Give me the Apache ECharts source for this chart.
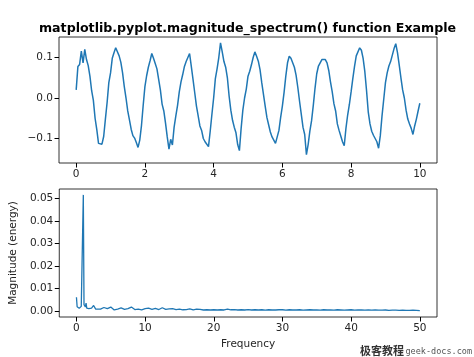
<!DOCTYPE html>
<html>
<head>
<meta charset="utf-8">
<script src="https://cdn.jsdelivr.net/npm/echarts@6/dist/echarts.min.js"></script>
<style>
html,body{margin:0;padding:0;background:#fff;}
#chart{width:474px;height:357px;}
</style>
</head>
<body>
<div id="chart"></div>
<script>
const sampleStep = 0.05;
const signalValues = [
  0.020, 0.078, 0.083, 0.116, 0.087, 0.120, 0.095, 0.080, 0.054, 0.018,
 -0.006,-0.050,-0.078,-0.112,-0.108,-0.114,-0.095,-0.052,-0.011, 0.038,
  0.062, 0.098, 0.112, 0.124, 0.121, 0.104, 0.088, 0.062, 0.028, 0.000,
 -0.032,-0.054,-0.077,-0.093,-0.099,-0.110,-0.122,-0.104,-0.068,-0.018,
  0.028, 0.055, 0.076, 0.092, 0.110, 0.098, 0.085, 0.072, 0.046, 0.020,
 -0.015,-0.032,-0.062,-0.096,-0.126,-0.102,-0.116,-0.072,-0.044,-0.018,
  0.015, 0.040, 0.058, 0.078, 0.090, 0.100, 0.110, 0.078, 0.046, 0.013,
 -0.020,-0.044,-0.069,-0.080,-0.100,-0.108,-0.104,-0.120,-0.082,-0.040,
  0.000, 0.048, 0.072, 0.100, 0.136, 0.114, 0.090, 0.076, 0.050, 0.005,
 -0.030,-0.055,-0.072,-0.086,-0.115,-0.130,-0.075,-0.030, 0.000, 0.022,
  0.054, 0.066, 0.082, 0.100, 0.114, 0.103, 0.091, 0.070, 0.038, 0.009,
 -0.020,-0.048,-0.066,-0.084,-0.096,-0.104,-0.112,-0.116,-0.080,-0.048,
 -0.020, 0.014, 0.054, 0.087, 0.103, 0.098, 0.095, 0.076, 0.056, 0.026,
 -0.008,-0.040,-0.072,-0.090,-0.140,-0.115,-0.082,-0.056,-0.018, 0.024,
  0.060, 0.079, 0.087, 0.095, 0.098, 0.095, 0.087, 0.068, 0.040, 0.016,
 -0.014,-0.032,-0.064,-0.080,-0.094,-0.108,-0.118,-0.075,-0.042,-0.016,
  0.015, 0.048, 0.078, 0.104, 0.105, 0.124, 0.118, 0.098, 0.065, 0.018,
 -0.035,-0.064,-0.082,-0.092,-0.100,-0.108,-0.124,-0.093,-0.044,-0.003,
  0.038, 0.062, 0.079, 0.090, 0.106, 0.122, 0.134, 0.112, 0.082, 0.050,
  0.020, 0.000,-0.030,-0.052,-0.064,-0.075,-0.090,-0.069,-0.052,-0.032,
 -0.013
];
const timeTicks = [0, 2, 4, 6, 8, 10];
const signalTicks = [-0.1, 0.0, 0.1];

// ---- Bottom panel: magnitude spectrum ----
const spectrumFreqs = [
  0.0,0.1,0.2,0.3,0.4,0.5,0.6,0.7,0.8,0.9,1.0,1.1,1.2,1.3,1.4,1.5,1.6,1.7,1.8,1.9,2.0,
  2.2,2.5,2.8,3.0,3.5,4.0,4.5,5.0,5.5,6.0,6.5,7.0,7.5,8.0,8.5,9.0,9.5,10.0,
  10.5,11.0,11.5,12.0,12.5,13.0,13.5,14.0,14.5,15.0,15.5,16.0,16.5,17.0,17.5,18.0,
  18.5,19.0,19.5,20.0,20.5,21.0,21.5,22.0,22.5,23.0,23.5,24.0,24.5,25.0,25.5,26.0,
  26.5,27.0,27.5,28.0,28.5,29.0,29.5,30.0,30.5,31.0,31.5,32.0,32.5,33.0,33.5,34.0,
  34.5,35.0,35.5,36.0,36.5,37.0,37.5,38.0,38.5,39.0,39.5,40.0,40.5,41.0,41.5,42.0,
  42.5,43.0,43.5,44.0,44.5,45.0,45.5,46.0,46.5,47.0,47.5,48.0,48.5,49.0,49.5,50.0
];
const spectrumMagnitudes = [
  0.0062,0.0020,0.0016,0.0024,0.0014,0.0020,0.0016,0.0022,0.0019,0.0030,0.0515,0.0030,0.0038,0.0020,0.0036,0.0014,0.0016,0.0008,0.0012,0.0006,0.0010,
  0.0014,0.0026,0.0010,0.0016,0.0010,0.0017,0.0012,0.0019,0.0006,0.0010,0.0015,0.0009,0.0012,0.0019,0.0008,0.0010,0.0007,0.0012,
  0.0014,0.0009,0.0013,0.0008,0.0016,0.0009,0.0011,0.0012,0.0008,0.0010,0.0007,0.0008,0.0011,0.0006,0.0010,0.0009,
  0.0006,0.0007,0.0006,0.0007,0.0006,0.0007,0.0006,0.0010,0.0007,0.0008,0.0006,0.0007,0.0006,0.0008,0.0006,0.0007,
  0.0006,0.0007,0.0005,0.0007,0.0006,0.0006,0.0007,0.0007,0.0005,0.0007,0.0006,0.0006,0.0007,0.0005,0.0006,0.0007,
  0.0006,0.0006,0.0005,0.0007,0.0006,0.0006,0.0005,0.0007,0.0006,0.0005,0.0006,0.0007,0.0005,0.0006,0.0006,0.0005,
  0.0006,0.0005,0.0006,0.0005,0.0005,0.0006,0.0004,0.0005,0.0005,0.0004,0.0005,0.0004,0.0004,0.0005,0.0004,0.0003
];
const freqTicks = [0, 10, 20, 30, 40, 50];
const magnitudeTicks = [0.00, 0.01, 0.02, 0.03, 0.04, 0.05];

const signalData = signalValues.map((v, i) => [+(i * sampleStep).toFixed(2), v]);
const spectrumData = spectrumFreqs.map((f, i) => [f, spectrumMagnitudes[i]]);

const FONT = 'DejaVu Sans';
const LABEL_COLOR = '#262626';
const BLUE = '#1f77b4';

function axisCfg(gridIndex, min, max, ticks, fmt, extra) {
  return Object.assign({
    type: 'value', gridIndex, min, max,
    axisLine: { show: false, onZero: false },
    splitLine: { show: false },
    axisTick: { show: true, inside: false, length: 4.5, customValues: ticks, lineStyle: { color: '#000', width: 1 } },
    axisLabel: { customValues: ticks, formatter: fmt, color: LABEL_COLOR, fontFamily: FONT, fontSize: 10.5, margin: 6 }
  }, extra || {});
}

const chart = echarts.init(document.getElementById('chart'), null, { renderer: 'canvas' });
chart.setOption({
  animation: false,
  backgroundColor: '#fff',
  title: {
    text: 'matplotlib.pyplot.magnitude_spectrum() function Example',
    left: 34, top: 17,
    textStyle: { fontFamily: FONT, fontWeight: 'bold', fontSize: 12.6, color: '#000' }
  },
  grid: [
    { left: 59, top: 37, width: 378, height: 126, show: true, borderColor: '#000', borderWidth: 0.8, backgroundColor: 'transparent' },
    { left: 59, top: 189, width: 378, height: 128, show: true, borderColor: '#000', borderWidth: 0.8, backgroundColor: 'transparent' }
  ],
  xAxis: [
    axisCfg(0, -0.5, 10.5, timeTicks, v => String(Math.round(v))),
    axisCfg(1, -2.5, 52.5, freqTicks, v => String(Math.round(v)), {
      name: 'Frequency', nameLocation: 'middle', nameGap: 22,
      nameTextStyle: { fontFamily: FONT, fontSize: 10.5, color: LABEL_COLOR }
    })
  ],
  yAxis: [
    axisCfg(0, -0.1605, 0.1507, signalTicks, v => (v < 0 ? '\u2212' : '') + Math.abs(v).toFixed(1)),
    axisCfg(1, -0.0025, 0.0541, magnitudeTicks, v => v.toFixed(2), {
      name: 'Magnitude (energy)', nameLocation: 'middle', nameGap: 30,
      nameTextStyle: { fontFamily: FONT, fontSize: 10.5, color: LABEL_COLOR }
    })
  ],
  series: [
    { type: 'line', xAxisIndex: 0, yAxisIndex: 0, data: signalData, showSymbol: false, symbol: 'none',
      lineStyle: { color: BLUE, width: 1.5 }, clip: true },
    { type: 'line', xAxisIndex: 1, yAxisIndex: 1, data: spectrumData, showSymbol: false, symbol: 'none',
      lineStyle: { color: BLUE, width: 1.3 }, clip: true }
  ],
  graphic: [
    { type: 'text', right: 70, top: 345, style: { text: '极客教程', fontFamily: 'Noto Sans CJK SC', fontWeight: 'bold', fontSize: 11, fill: '#333' } },
    { type: 'text', right: 2, top: 347, style: { text: 'geek-docs.com', fontFamily: 'DejaVu Sans Mono', fontSize: 8.5, fill: '#555' } }
  ]
});
</script>
</body>
</html>
